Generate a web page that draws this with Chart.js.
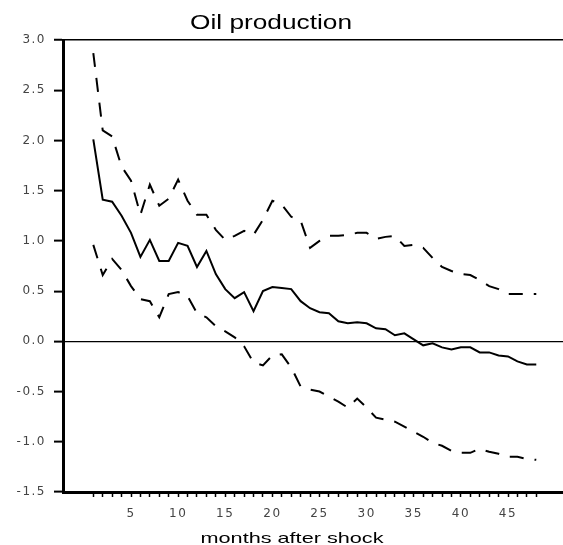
<!DOCTYPE html>
<html>
<head>
<meta charset="utf-8">
<script src="https://cdn.jsdelivr.net/npm/chart.js@4"></script>
<style>
  html, body { margin: 0; padding: 0; background: #fff; }
  canvas { display: block; }
</style>
</head>
<body>
<canvas id="oilChart" width="563" height="545"></canvas>
<script>
// Datos del gráfico
const months = [1, 2, 3, 4, 5, 6, 7, 8, 9, 10, 11, 12, 13, 14, 15, 16, 17, 18, 19, 20, 21, 22, 23, 24,
    25, 26, 27, 28, 29, 30, 31, 32, 33, 34, 35, 36, 37, 38, 39, 40, 41, 42, 43, 44, 45, 46, 47, 48];

const upperBand = [2.87, 2.10, 2.04, 1.74, 1.60, 1.26, 1.56, 1.35, 1.42, 1.61, 1.40, 1.26,
    1.26, 1.11, 1.01, 1.05, 1.10, 1.06, 1.21, 1.40, 1.36, 1.24, 1.20, 0.93,
    1.00, 1.05, 1.05, 1.06, 1.08, 1.08, 1.02, 1.04, 1.05, 0.95, 0.96, 0.93,
    0.83, 0.74, 0.70, 0.67, 0.66, 0.61, 0.55, 0.52, 0.47, 0.47, 0.47, 0.47];

const response = [2.01, 1.41, 1.39, 1.25, 1.08, 0.84, 1.01, 0.80, 0.80, 0.98, 0.95, 0.74,
    0.90, 0.67, 0.52, 0.43, 0.49, 0.30, 0.50, 0.54, 0.53, 0.52, 0.40, 0.33,
    0.29, 0.28, 0.20, 0.18, 0.19, 0.18, 0.13, 0.12, 0.06, 0.08, 0.02, -0.04,
    -0.02, -0.06, -0.08, -0.06, -0.06, -0.11, -0.11, -0.14, -0.15, -0.20, -0.23, -0.23];

const lowerBand = [0.96, 0.66, 0.82, 0.71, 0.55, 0.42, 0.40, 0.24, 0.47, 0.49, 0.45, 0.28,
    0.24, 0.15, 0.10, 0.04, -0.05, -0.21, -0.24, -0.14, -0.13, -0.26, -0.45, -0.48,
    -0.50, -0.55, -0.60, -0.66, -0.57, -0.66, -0.76, -0.78, -0.80, -0.85, -0.90, -0.95,
    -1.01, -1.04, -1.09, -1.11, -1.11, -1.07, -1.10, -1.12, -1.15, -1.15, -1.17, -1.18];

const xTickLabels = [5, 10, 15, 20, 25, 30, 35, 40, 45];
const yTicks = [-1.5, -1.0, -0.5, 0.0, 0.5, 1.0, 1.5, 2.0, 2.5, 3.0];

const chartTitle = 'Oil production';
const xAxisTitle = 'months after shock';

function toPoints(values) {
    return months.map((m, i) => ({ x: m, y: values[i] }));
}

// Texto estirado horizontalmente, como en la imagen original
function drawStretched(c, text, cx, baseline, width, font) {
    c.save();
    c.letterSpacing = '0px';
    c.font = font;
    c.fillStyle = '#000000';
    c.textAlign = 'center';
    c.textBaseline = 'alphabetic';
    const w = c.measureText(text).width;
    c.translate(cx, baseline);
    c.scale(width / w, 1);
    c.fillText(text, 0, 0);
    c.restore();
}

// Etiquetas de los ejes un poco más anchas
function wideLabels(chart) {
    chart.ctx.letterSpacing = '1.5px';
}

const titlesPlugin = {
    id: 'stretchedTitles',
    beforeUpdate: wideLabels,
    beforeLayout: wideLabels,
    beforeDraw: wideLabels,
    afterDraw(chart) {
        const c = chart.ctx;
        drawStretched(c, chartTitle, 271, 29, 162, '20px "Liberation Sans"');
        drawStretched(c, xAxisTitle, 292, 543, 183, '15px "Liberation Sans"');
    }
};

const lineStyle = {
    borderColor: '#000000',
    borderWidth: 2,
    pointRadius: 0,
    tension: 0,
    fill: false
};

const ctx = document.getElementById('oilChart').getContext('2d');
const oilChart = new Chart(ctx, {
    type: 'line',
    data: {
        datasets: [
            { ...lineStyle, label: 'upper', data: toPoints(upperBand), borderDash: [14, 11] },
            { ...lineStyle, label: 'response', data: toPoints(response) },
            { ...lineStyle, label: 'lower', data: toPoints(lowerBand), borderDash: [14, 11] }
        ]
    },
    options: {
        responsive: false,
        devicePixelRatio: 1,
        animation: false,
        layout: {
            padding: { top: 40, left: 0, right: 0, bottom: 0 }
        },
        plugins: {
            legend: { display: false },
            title: { display: false },
            tooltip: { enabled: false }
        },
        scales: {
            x: {
                type: 'linear',
                min: -2.215,
                max: 50.835,
                afterBuildTicks: (scale) => {
                    scale.ticks = months.map(m => ({ value: m }));
                },
                afterFit: (scale) => {
                    scale.height = 53;
                },
                ticks: {
                    autoSkip: false,
                    maxRotation: 0,
                    minRotation: 0,
                    padding: 10,
                    color: '#444444',
                    font: { family: 'DejaVu Sans', size: 12 },
                    callback: (value) => xTickLabels.includes(value) ? String(value) : ''
                },
                grid: {
                    drawOnChartArea: false,
                    drawTicks: true,
                    tickLength: 5,
                    tickColor: '#000000',
                    tickWidth: 1.5
                },
                border: { display: true, color: '#000000', width: 3 }
            },
            y: {
                min: -1.5,
                max: 3.0,
                afterBuildTicks: (scale) => {
                    scale.ticks = yTicks.map(v => ({ value: v }));
                },
                afterFit: (scale) => {
                    scale.width = 63;
                },
                ticks: {
                    padding: 8,
                    color: '#444444',
                    font: { family: 'DejaVu Sans', size: 12 },
                    callback: (value) => value.toFixed(1)
                },
                grid: {
                    color: (c) => (c.tick && (c.tick.value === 0 || c.tick.value === 3)) ? '#000000' : 'rgba(0,0,0,0)',
                    lineWidth: (c) => (c.tick && c.tick.value === 3) ? 1.5 : 1.2,
                    drawTicks: true,
                    tickLength: 9,
                    tickColor: '#000000',
                    tickWidth: 2
                },
                border: { display: true, color: '#000000', width: 3 }
            }
        }
    },
    plugins: [titlesPlugin]
});
</script>
</body>
</html>
